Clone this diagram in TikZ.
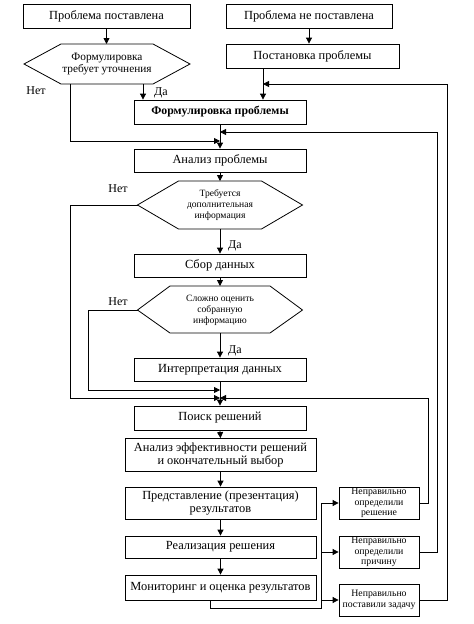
\documentclass[tikz,border=0pt]{standalone}
\usepackage{fontspec}
\setmainfont{Liberation Serif}
\usetikzlibrary{arrows.meta}
\begin{document}
\begin{tikzpicture}[x=1pt,y=-1pt,
  line width=0.8pt,
  arr/.style={-{Triangle[length=6pt,width=6pt]}},
  boxx/.style={draw,rectangle,inner sep=0pt,align=center,font=\fontsize{12.4}{13.5}\selectfont},
  smallbox/.style={draw,rectangle,inner sep=0pt,align=center,font=\fontsize{9.8}{10.5}\selectfont},
  hextext/.style={inner sep=0pt,align=center},
  lbl/.style={inner sep=0pt,font=\fontsize{12}{13}\selectfont}]
\useasboundingbox (0,0) rectangle (474,624);
% top boxes
\node[boxx,minimum width=167pt,minimum height=24pt] (top1) at (106.5,16) {Проблема поставлена};
\node[boxx,minimum width=166pt,minimum height=24pt] (top2) at (309,16) {Проблема не поставлена};
\node[boxx,minimum width=173pt,minimum height=24pt] (post) at (312.5,56) {Постановка проблемы};
% hexagon 1
\draw (24,64) -- (61,44) -- (153,44) -- (190,64) -- (153,84) -- (61,84) -- cycle;
\node[hextext,font=\fontsize{11.3}{12.5}\selectfont] (hex1) at (107,64) {Формулировка\\требует уточнения};
\coordinate (h1top) at (106.5,44);
\coordinate (h1no) at (70,84);
\coordinate (h1yes) at (143,84);
\node[lbl] (no1) at (36,91) {Нет};
\node[lbl] (yes1) at (161,93) {Да};
% main column
\node[boxx,minimum width=172pt,minimum height=24pt,font=\bfseries\fontsize{11.8}{12.5}\selectfont] (form) at (220,112) {Формулировка проблемы};
\node[boxx,minimum width=172pt,minimum height=23pt] (anal) at (220,160.5) {Анализ проблемы};
% hexagon 2
\draw (137.5,205) -- (178.5,181) -- (261.5,181) -- (302.5,205) -- (261.5,229) -- (178.5,229) -- cycle;
\node[hextext,font=\fontsize{9.6}{11}\selectfont] (hex2) at (220,205) {Требуется\\дополнительная\\информация};
\coordinate (h2top) at (220,181);
\coordinate (h2bot) at (220,229);
\coordinate (h2left) at (137.5,205);
\node[lbl] (no2) at (118,189) {Нет};
\node[lbl] (yes2) at (235,246) {Да};
\node[boxx,minimum width=172pt,minimum height=23pt] (sbor) at (220,265.5) {Сбор данных};
% hexagon 3
\draw (137.5,310) -- (170,286) -- (270,286) -- (302.5,310) -- (270,333) -- (170,333) -- cycle;
\node[hextext,font=\fontsize{9.6}{11}\selectfont] (hex3) at (220,310) {Сложно оценить\\собранную\\информацию};
\coordinate (h3top) at (220,286);
\coordinate (h3bot) at (220,333);
\coordinate (h3left) at (137.5,310);
\node[lbl] (no3) at (118,302) {Нет};
\node[lbl] (yes3) at (235,351) {Да};
\node[boxx,minimum width=172pt,minimum height=23pt] (interp) at (220,369.5) {Интерпретация данных};
\node[boxx,minimum width=172pt,minimum height=24pt] (poisk) at (220,418) {Поиск решений};
\node[boxx,minimum width=191pt,minimum height=33pt] (eff) at (220.5,455) {Анализ эффективности решений\\и окончательный выбор};
\node[boxx,minimum width=191pt,minimum height=32pt] (pres) at (220.5,503) {Представление (презентация)\\результатов};
\node[boxx,minimum width=191pt,minimum height=22pt] (real) at (220.5,547) {Реализация решения};
\node[boxx,minimum width=191pt,minimum height=25pt] (mon) at (220.5,587.5) {Мониторинг и оценка результатов};
% right boxes
\node[smallbox,minimum width=80pt,minimum height=32pt] (r1) at (379,503) {Неправильно\\определили\\решение};
\node[smallbox,minimum width=80pt,minimum height=32pt] (r2) at (379,552) {Неправильно\\определили\\причину};
\node[smallbox,minimum width=80pt,minimum height=32pt] (r3) at (379,600) {Неправильно\\поставили задачу};
% coordinates for junctions
\coordinate (j1) at (220,141);
\coordinate (j2) at (220,132);
\coordinate (j3) at (263,84);
\coordinate (j4) at (220,390);
\coordinate (j5) at (220,398);
\coordinate (bus) at (321,608);
% connectors
\draw[arr] (top1.south) -- (h1top);
\draw[arr] (top2.south) -- (top2.south |- post.north);
\draw[arr] (post.south -| j3) -- (j3 |- form.north);
\draw[arr] (h1yes) -- (h1yes |- form.north);
\draw[arr] (h1no) |- (j1);
\draw[arr] (form.south) -- (anal.north);
\draw[arr] (r3.east) -- (447,600) |- (j3);
\draw[arr] (r2.east) -- (437,552) |- (j2);
\draw[arr] (anal.south) -- (h2top);
\draw[arr] (h2left) -- (70,205) |- (j5);
\draw[arr] (h2bot) -- (sbor.north);
\draw[arr] (sbor.south) -- (h3top);
\draw[arr] (h3left) -- (88,310) |- (j4);
\draw[arr] (h3bot) -- (interp.north);
\draw[arr] (interp.south) -- (poisk.north);
\draw[arr] (r1.east) -- (428,503) |- (j5);
\draw[arr] (poisk.south) -- (eff.north);
\draw[arr] (eff.south) -- (pres.north);
\draw[arr] (pres.south) -- (real.north);
\draw[arr] (real.south) -- (mon.north);
\draw[arr] (mon.south -| 210,0) |- (bus) |- (r1.west);
\draw[arr] (bus |- r2.west) -- (r2.west);
\draw[arr] (bus |- r3.west) -- (r3.west);
\end{tikzpicture}
\end{document}
